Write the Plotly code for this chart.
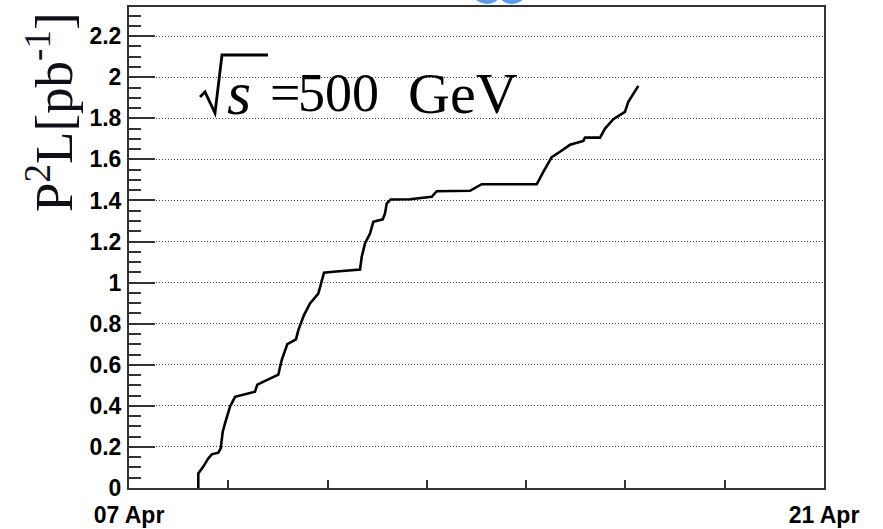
import pandas as pd
import plotly.graph_objects as go

# ---------------- data ----------------
start_date = "2013-04-07"
end_date = "2013-04-21"

# days elapsed since 07 Apr 00:00
day_offsets = [1.396, 1.396, 1.497, 1.597, 1.666, 1.799, 1.847, 1.888, 1.934, 2.035,
               2.136, 2.337, 2.538, 2.585, 3.008, 3.076, 3.189, 3.364, 3.411, 3.525,
               3.646, 3.813, 3.902, 3.928, 4.116, 4.452, 4.654, 4.688, 4.754, 4.855,
               4.921, 5.111, 5.157, 5.191, 5.272, 5.661, 6.098, 6.199, 6.869, 7.105,
               8.213, 8.346, 8.515, 8.682, 8.884, 9.152, 9.186, 9.488, 9.589, 9.756,
               9.925, 9.990, 10.058, 10.260]
# integrated P^2 L [pb^-1]
pol2_lumi = [0.000, 0.071, 0.104, 0.144, 0.164, 0.172, 0.193, 0.274, 0.315, 0.396,
             0.444, 0.457, 0.469, 0.503, 0.552, 0.623, 0.701, 0.724, 0.769, 0.842,
             0.899, 0.947, 1.036, 1.048, 1.053, 1.061, 1.064, 1.126, 1.191, 1.239,
             1.296, 1.308, 1.337, 1.385, 1.405, 1.406, 1.418, 1.445, 1.447, 1.479,
             1.479, 1.539, 1.611, 1.637, 1.671, 1.690, 1.706, 1.706, 1.750, 1.796,
             1.820, 1.831, 1.880, 1.958]

x_tick_dates = ["2013-04-07", "2013-04-09", "2013-04-11", "2013-04-13",
                "2013-04-15", "2013-04-17", "2013-04-19", "2013-04-21"]
x_tick_labels = ["07 Apr", " ", " ", " ", " ", " ", " ", "21 Apr"]

y_tick_values = [0, 0.2, 0.4, 0.6, 0.8, 1.0, 1.2, 1.4, 1.6, 1.8, 2.0, 2.2]
y_tick_labels = ["0", "0.2", "0.4", "0.6", "0.8", "1", "1.2", "1.4", "1.6", "1.8", "2", "2.2"]
y_range = [0, 2.342]

y_title = "P<sup>2</sup>L[pb<sup>-1</sup>]"
energy_label = ["<i>s</i>", "=", "500", "GeV"]

# ---------------- figure ----------------
W, H = 883, 529
L, R, T, B = 129, 59, 7, 41
PW, PH = W - L - R, H - T - B


def px2x(px):
    return (px - L) / PW


def px2y(py):
    return (H - B - py) / PH


times = pd.Timestamp(start_date) + pd.to_timedelta(day_offsets, unit="D")

fig = go.Figure()
fig.add_trace(go.Scatter(x=times, y=pol2_lumi, mode="lines",
                         line=dict(color="black", width=2.6),
                         hoverinfo="skip", showlegend=False))

tick_font = dict(family="Liberation Sans, Arial, sans-serif", size=23,
                 color="black", weight="bold")

fig.update_xaxes(range=[start_date, end_date], type="date", automargin=False,
                 tickvals=x_tick_dates, ticktext=x_tick_labels,
                 ticks="inside", ticklen=8, tickwidth=1.5, tickcolor="#333",
                 showgrid=False, zeroline=False,
                 showline=True, linecolor="#333", linewidth=2, mirror=True,
                 tickfont=tick_font, tickangle=0, ticklabelstandoff=5)

fig.update_yaxes(range=y_range, tickvals=y_tick_values, ticktext=y_tick_labels,
                 automargin=False,
                 ticks="inside", ticklen=26, tickwidth=1.5, tickcolor="#333",
                 minor=dict(dtick=0.05, ticks="inside", ticklen=12, tickwidth=1.5,
                            tickcolor="#333", showgrid=False),
                 showgrid=True, gridcolor="#444", gridwidth=1, griddash="1px,2px",
                 zeroline=False,
                 showline=True, linecolor="#333", linewidth=2, mirror=True,
                 tickfont=tick_font, ticklabelstandoff=1)

serif = "Liberation Serif, Times New Roman, serif"
ann = []
# y-axis title
ann.append(dict(text=y_title, x=px2x(50), y=px2y(112), xref="paper", yref="paper",
                xanchor="center", yanchor="middle", textangle=-90, showarrow=False,
                font=dict(family=serif, size=53, color="#101018")))
# sqrt(s) = 500 GeV
fs = 54
ann.append(dict(text=energy_label[0], x=px2x(239), y=px2y(93), xref="paper", yref="paper",
                xanchor="center", yanchor="middle", showarrow=False,
                font=dict(family=serif, size=62, color="black")))
ann.append(dict(text=energy_label[1], x=px2x(285), y=px2y(93), xref="paper", yref="paper",
                xanchor="center", yanchor="middle", showarrow=False,
                font=dict(family=serif, size=fs, color="black")))
ann.append(dict(text=energy_label[2], x=px2x(338), y=px2y(93), xref="paper", yref="paper",
                xanchor="center", yanchor="middle", showarrow=False,
                font=dict(family=serif, size=fs, color="black")))
ann.append(dict(text=energy_label[3], x=px2x(463), y=px2y(93), xref="paper", yref="paper",
                xanchor="center", yanchor="middle", showarrow=False,
                font=dict(family=serif, size=fs + 4, color="black")))

shapes = []
# radical sign
rad = [(200, 97), (205, 92), (215, 113), (222, 55), (268, 55)]
path = "M " + " L ".join(f"{px2x(a):.5f},{px2y(b):.5f}" for a, b in rad)
shapes.append(dict(type="path", path=path, xref="paper", yref="paper",
                   line=dict(color="black", width=2.8)))
# cut-off blue lettering at the very top of the slide
for cx in (487, 512):
    shapes.append(dict(type="circle", xref="paper", yref="paper",
                       x0=px2x(cx - 12.5), x1=px2x(cx + 12.5),
                       y0=px2y(4), y1=px2y(-14),
                       fillcolor="#5f9be3", line=dict(width=0)))

fig.update_layout(width=W, height=H, autosize=False,
                  margin=dict(l=L, r=R, t=T, b=B, pad=0),
                  paper_bgcolor="white", plot_bgcolor="white",
                  annotations=ann, shapes=shapes, showlegend=False)

fig.write_html("out.html")
